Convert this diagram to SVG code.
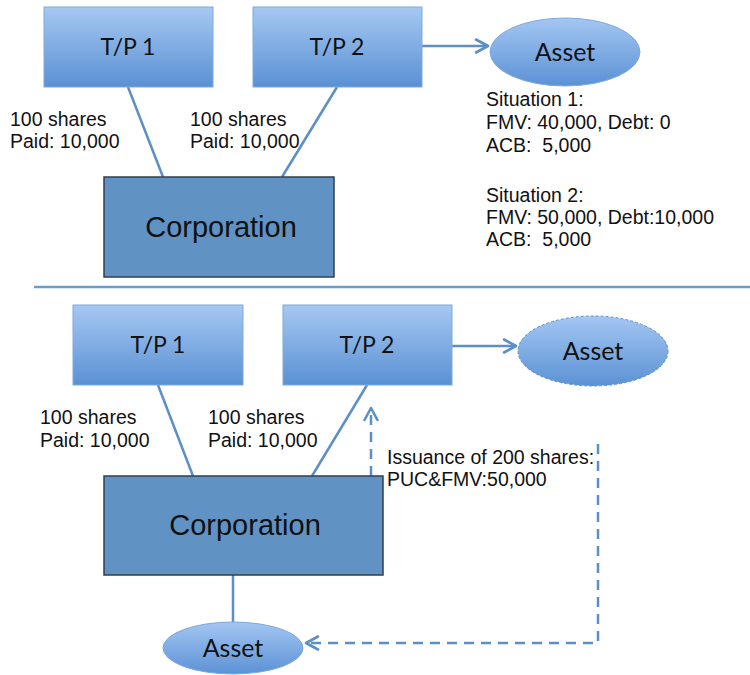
<svg xmlns="http://www.w3.org/2000/svg" width="750" height="675" viewBox="0 0 750 675">
<defs>
<linearGradient id="gBox" x1="0" y1="0" x2="0" y2="1">
<stop offset="0" stop-color="#a6c8f2"/>
<stop offset="1" stop-color="#5a91d4"/>
</linearGradient>
<linearGradient id="gEl" x1="0" y1="0" x2="0" y2="1">
<stop offset="0" stop-color="#a4c6f2"/>
<stop offset="1" stop-color="#5b92d5"/>
</linearGradient>
<marker id="arr2" viewBox="0 0 16 16" refX="14" refY="8" markerWidth="16" markerHeight="16" markerUnits="userSpaceOnUse" orient="auto">
<path d="M2,1.5 L14,8 L2,14.5" fill="none" stroke="#5a8fc8" stroke-width="2.6" stroke-linecap="round" stroke-linejoin="round"/>
</marker>
</defs>
<style>
.tp{fill:url(#gBox);stroke:#7ea9dc;stroke-width:1}
.el{fill:url(#gEl);stroke:#7ea9dc;stroke-width:1}
.eld{fill:url(#gEl);stroke:#5a8fc8;stroke-width:1;stroke-dasharray:3 2}
.corp{fill:#6093c4;stroke:#2f3f52;stroke-width:1.5}
.ln{stroke:#5b8fc6;stroke-width:2.5;fill:none}
.dash{stroke:#5b8fc6;stroke-width:2.5;fill:none;stroke-dasharray:10 7}
.cal{font-family:Lato,"Open Sans",sans-serif;fill:#111;text-anchor:middle}
.ar{font-family:"Liberation Sans",Arial,sans-serif;fill:#111}
.lbl{font-family:"Liberation Sans",Arial,sans-serif;fill:#111;font-size:19.5px}
</style>
<rect width="750" height="675" fill="#ffffff"/>

<g id="connectors">
<line class="ln" x1="128" y1="87" x2="163" y2="177"/>
<line class="ln" x1="337" y1="87" x2="282" y2="177"/>
<line class="ln" x1="422" y1="46" x2="488" y2="46" marker-end="url(#arr2)"/>
<line x1="34" y1="287" x2="750" y2="287" stroke="#6e9ccc" stroke-width="2.5"/>
<line class="ln" x1="158" y1="385" x2="193" y2="476"/>
<line class="ln" x1="367" y1="385" x2="312" y2="476"/>
<line class="ln" x1="452" y1="346" x2="516" y2="346" marker-end="url(#arr2)"/>
<line class="ln" x1="233" y1="575" x2="233" y2="622"/>
<line class="dash" x1="371" y1="476" x2="371" y2="408" marker-end="url(#arr2)"/>
<polyline class="dash" points="598,444 598,643 306,643" marker-end="url(#arr2)"/>
</g>

<g id="tp1-top"><rect class="tp" x="44" y="7" width="169" height="80"/><text class="cal" x="128" y="55" font-size="23">T/P 1</text></g>
<g id="tp2-top"><rect class="tp" x="253" y="7" width="169" height="80"/><text class="cal" x="337" y="55" font-size="23">T/P 2</text></g>
<g id="asset-top"><ellipse class="el" cx="565" cy="52" rx="75" ry="34"/><text class="cal" x="565" y="61" font-size="25">Asset</text></g>
<g id="corp-top"><rect class="corp" x="104" y="177" width="230" height="100"/><text class="ar" x="221" y="237" font-size="29" text-anchor="middle">Corporation</text></g>

<g id="labels-top">
<text class="lbl" x="10" y="126">100 shares</text>
<text class="lbl" x="10" y="148">Paid: 10,000</text>
<text class="lbl" x="190" y="126">100 shares</text>
<text class="lbl" x="190" y="148">Paid: 10,000</text>
<text class="lbl" x="486" y="106">Situation 1:</text>
<text class="lbl" x="486" y="129">FMV: 40,000, Debt: 0</text>
<text class="lbl" x="486" y="152">ACB: &#160;5,000</text>
<text class="lbl" x="486" y="202">Situation 2:</text>
<text class="lbl" x="486" y="224">FMV: 50,000, Debt:10,000</text>
<text class="lbl" x="486" y="246">ACB: &#160;5,000</text>
</g>

<g id="tp1-bot"><rect class="tp" x="73" y="305" width="170" height="80"/><text class="cal" x="158" y="353" font-size="23">T/P 1</text></g>
<g id="tp2-bot"><rect class="tp" x="283" y="305" width="169" height="80"/><text class="cal" x="367" y="353" font-size="23">T/P 2</text></g>
<g id="asset-bot"><ellipse class="eld" cx="593" cy="351" rx="75" ry="35"/><text class="cal" x="593" y="360" font-size="25">Asset</text></g>
<g id="corp-bot"><rect class="corp" x="104" y="476" width="279" height="99"/><text class="ar" x="245" y="535" font-size="29" text-anchor="middle">Corporation</text></g>
<g id="asset-small"><ellipse class="el" cx="233" cy="648" rx="70" ry="26"/><text class="cal" x="233" y="657" font-size="25">Asset</text></g>

<g id="labels-bot">
<text class="lbl" x="40" y="424">100 shares</text>
<text class="lbl" x="40" y="447">Paid: 10,000</text>
<text class="lbl" x="208" y="424">100 shares</text>
<text class="lbl" x="208" y="447">Paid: 10,000</text>
<text class="lbl" x="387" y="464">Issuance of 200 shares:</text>
<text class="lbl" x="387" y="486">PUC&amp;FMV:50,000</text>
</g>
</svg>
